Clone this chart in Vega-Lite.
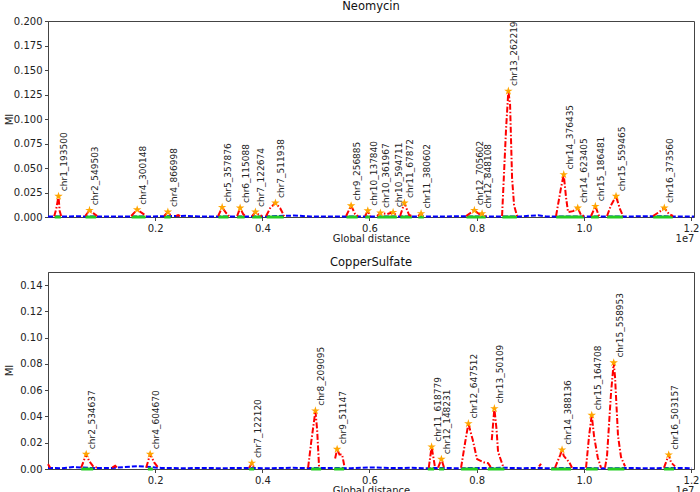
{
  "$schema": "https://vega.github.io/schema/vega-lite/v6.json",
  "padding": {"left": 3, "top": 0, "right": 0, "bottom": 0},
  "background": "white",
  "spacing": 12,
  "config": {
    "font": "DejaVu Sans",
    "view": {"stroke": "#444", "strokeWidth": 1},
    "axis": {"labelFont": "DejaVu Sans", "titleFont": "DejaVu Sans", "labelFontSize": 10, "titleFontSize": 10, "labelColor": "#222", "titleColor": "#222", "tickColor": "#444", "domainColor": "#444", "grid": false, "tickSize": 3.5, "titleFontWeight": "normal", "labelFlush": false, "labelPadding": 2.5, "labelOverlap": false},
    "title": {"font": "DejaVu Sans", "fontSize": 11.5, "fontWeight": "normal", "color": "#111", "offset": 0, "anchor": "middle"}
  },
  "datasets": {
    "neo_base": [
      {"pos": 0, "mi": 0.0006}, {"pos": 246300, "mi": 0.0005}, {"pos": 526100, "mi": 0.0007}, {"pos": 899300, "mi": 0.0005},
      {"pos": 1179100, "mi": 0.0006}, {"pos": 1459000, "mi": 0.0005}, {"pos": 1925400, "mi": 0.0006}, {"pos": 2578400, "mi": 0.0012},
      {"pos": 2858300, "mi": 0.0005}, {"pos": 3417900, "mi": 0.0006}, {"pos": 4015000, "mi": 0.0005}, {"pos": 4593400, "mi": 0.0015},
      {"pos": 4910500, "mi": 0.0005}, {"pos": 5283700, "mi": 0.0006}, {"pos": 5843400, "mi": 0.0005}, {"pos": 6589700, "mi": 0.0006},
      {"pos": 7149400, "mi": 0.0005}, {"pos": 7615800, "mi": 0.0007}, {"pos": 8268800, "mi": 0.0005}, {"pos": 8828500, "mi": 0.0006},
      {"pos": 9145700, "mi": 0.0018}, {"pos": 9295000, "mi": 0.0005}, {"pos": 10041200, "mi": 0.0006}, {"pos": 10321000, "mi": 0.0005},
      {"pos": 10880800, "mi": 0.0006}, {"pos": 11160600, "mi": 0.0008}, {"pos": 11813600, "mi": 0.0005}, {"pos": 12056000, "mi": 0.0006}
    ],
    "neo_green": [
      {"start": 125000, "end": 240000, "mi": 0}, {"start": 700000, "end": 900000, "mi": 0}, {"start": 1560000, "end": 1820000, "mi": 0}, {"start": 2170000, "end": 2290000, "mi": 0},
      {"start": 3180000, "end": 3370000, "mi": 0}, {"start": 3530000, "end": 3670000, "mi": 0}, {"start": 3810000, "end": 3990000, "mi": 0}, {"start": 4080000, "end": 4400000, "mi": 0},
      {"start": 5570000, "end": 5780000, "mi": 0}, {"start": 5920000, "end": 6010000, "mi": 0}, {"start": 6145000, "end": 6510000, "mi": 0}, {"start": 6575000, "end": 6790000, "mi": 0},
      {"start": 6910000, "end": 7015000, "mi": 0}, {"start": 7810000, "end": 8170000, "mi": 0}, {"start": 8480000, "end": 8750000, "mi": 0}, {"start": 9485000, "end": 10000000, "mi": 0},
      {"start": 10135000, "end": 10280000, "mi": 0}, {"start": 10435000, "end": 10730000, "mi": 0}, {"start": 11295000, "end": 11660000, "mi": 0}
    ],
    "neo_red": [
      {"seg": 1, "pos": 115700, "mi": 0.0008}, {"seg": 1, "pos": 153000, "mi": 0.008}, {"seg": 1, "pos": 195900, "mi": 0.0212}, {"seg": 1, "pos": 218300, "mi": 0.006}, {"seg": 1, "pos": 246300, "mi": 0.0008},
      {"seg": 2, "pos": 694000, "mi": 0.001}, {"seg": 2, "pos": 774300, "mi": 0.0068}, {"seg": 2, "pos": 843300, "mi": 0.004}, {"seg": 2, "pos": 917900, "mi": 0.001},
      {"seg": 3, "pos": 1552300, "mi": 0.001}, {"seg": 3, "pos": 1664200, "mi": 0.0075}, {"seg": 3, "pos": 1757500, "mi": 0.004}, {"seg": 3, "pos": 1832100, "mi": 0.001},
      {"seg": 4, "pos": 2167900, "mi": 0.001}, {"seg": 4, "pos": 2237000, "mi": 0.0051}, {"seg": 4, "pos": 2298500, "mi": 0.001},
      {"seg": 5, "pos": 2391800, "mi": 0.001}, {"seg": 5, "pos": 2429100, "mi": 0.002}, {"seg": 5, "pos": 2466400, "mi": 0.001},
      {"seg": 6, "pos": 3175400, "mi": 0.001}, {"seg": 6, "pos": 3250000, "mi": 0.0099}, {"seg": 6, "pos": 3324700, "mi": 0.004}, {"seg": 6, "pos": 3380600, "mi": 0.001},
      {"seg": 7, "pos": 3529900, "mi": 0.001}, {"seg": 7, "pos": 3585900, "mi": 0.0092}, {"seg": 7, "pos": 3641800, "mi": 0.003}, {"seg": 7, "pos": 3679200, "mi": 0.001},
      {"seg": 8, "pos": 3809800, "mi": 0.001}, {"seg": 8, "pos": 3871300, "mi": 0.0051}, {"seg": 8, "pos": 3940400, "mi": 0.002}, {"seg": 8, "pos": 3996300, "mi": 0.001},
      {"seg": 9, "pos": 4070900, "mi": 0.001}, {"seg": 9, "pos": 4145600, "mi": 0.009}, {"seg": 9, "pos": 4244500, "mi": 0.0143}, {"seg": 9, "pos": 4332200, "mi": 0.009}, {"seg": 9, "pos": 4406800, "mi": 0.001},
      {"seg": 10, "pos": 5563500, "mi": 0.001}, {"seg": 10, "pos": 5656800, "mi": 0.0116}, {"seg": 10, "pos": 5731400, "mi": 0.003}, {"seg": 10, "pos": 5787400, "mi": 0.001},
      {"seg": 11, "pos": 5918000, "mi": 0.001}, {"seg": 11, "pos": 5968400, "mi": 0.0065}, {"seg": 11, "pos": 6011300, "mi": 0.001},
      {"seg": 12, "pos": 6141900, "mi": 0.001}, {"seg": 12, "pos": 6203500, "mi": 0.0041}, {"seg": 12, "pos": 6328500, "mi": 0.003}, {"seg": 12, "pos": 6440400, "mi": 0.0048}, {"seg": 12, "pos": 6515000, "mi": 0.001},
      {"seg": 13, "pos": 6571000, "mi": 0.001}, {"seg": 13, "pos": 6651200, "mi": 0.0143}, {"seg": 13, "pos": 6738900, "mi": 0.002}, {"seg": 13, "pos": 6794900, "mi": 0.001},
      {"seg": 14, "pos": 6906800, "mi": 0.001}, {"seg": 14, "pos": 6962800, "mi": 0.0035}, {"seg": 14, "pos": 7018800, "mi": 0.001},
      {"seg": 15, "pos": 7802400, "mi": 0.001}, {"seg": 15, "pos": 7957200, "mi": 0.0068}, {"seg": 15, "pos": 8044900, "mi": 0.003}, {"seg": 15, "pos": 8100900, "mi": 0.0035}, {"seg": 15, "pos": 8175500, "mi": 0.001},
      {"seg": 16, "pos": 8474000, "mi": 0.001}, {"seg": 16, "pos": 8548600, "mi": 0.09}, {"seg": 16, "pos": 8591500, "mi": 0.1285}, {"seg": 16, "pos": 8623300, "mi": 0.115}, {"seg": 16, "pos": 8660600, "mi": 0.04}, {"seg": 16, "pos": 8697900, "mi": 0.012}, {"seg": 16, "pos": 8753900, "mi": 0.001},
      {"seg": 17, "pos": 9481500, "mi": 0.001}, {"seg": 17, "pos": 9574800, "mi": 0.03}, {"seg": 17, "pos": 9625000, "mi": 0.0433}, {"seg": 17, "pos": 9668100, "mi": 0.02}, {"seg": 17, "pos": 9705400, "mi": 0.005}, {"seg": 17, "pos": 9798700, "mi": 0.006}, {"seg": 17, "pos": 9886300, "mi": 0.0092}, {"seg": 17, "pos": 9947900, "mi": 0.002}, {"seg": 17, "pos": 10003900, "mi": 0.001},
      {"seg": 18, "pos": 10134500, "mi": 0.001}, {"seg": 18, "pos": 10214700, "mi": 0.0109}, {"seg": 18, "pos": 10283700, "mi": 0.001},
      {"seg": 19, "pos": 10433000, "mi": 0.001}, {"seg": 19, "pos": 10507600, "mi": 0.012}, {"seg": 19, "pos": 10600900, "mi": 0.0212}, {"seg": 19, "pos": 10675500, "mi": 0.008}, {"seg": 19, "pos": 10731500, "mi": 0.001},
      {"seg": 20, "pos": 11291200, "mi": 0.001}, {"seg": 20, "pos": 11403200, "mi": 0.005}, {"seg": 20, "pos": 11502000, "mi": 0.0092}, {"seg": 20, "pos": 11589700, "mi": 0.003}, {"seg": 20, "pos": 11664400, "mi": 0.001}
    ],
    "neo_peaks": [
      {"label": "chr1_193500", "pos": 195900, "mi": 0.0212},
      {"label": "chr2_549503", "pos": 774300, "mi": 0.0068},
      {"label": "chr4_300148", "pos": 1664200, "mi": 0.0075},
      {"label": "chr4_866998", "pos": 2237000, "mi": 0.0051},
      {"label": "chr5_357876", "pos": 3250000, "mi": 0.0099},
      {"label": "chr6_115088", "pos": 3585900, "mi": 0.0092},
      {"label": "chr7_122674", "pos": 3871300, "mi": 0.0051},
      {"label": "chr7_511938", "pos": 4244500, "mi": 0.0143},
      {"label": "chr9_256885", "pos": 5656800, "mi": 0.0116},
      {"label": "chr10_137840", "pos": 5968400, "mi": 0.0065},
      {"label": "chr10_361967", "pos": 6203500, "mi": 0.0041},
      {"label": "chr10_594711", "pos": 6440400, "mi": 0.0048},
      {"label": "chr11_67872", "pos": 6651200, "mi": 0.0143},
      {"label": "chr11_380602", "pos": 6962800, "mi": 0.0035},
      {"label": "chr12_705602", "pos": 7957200, "mi": 0.0068},
      {"label": "chr12_848108", "pos": 8100900, "mi": 0.0035},
      {"label": "chr13_262219", "pos": 8591500, "mi": 0.1285},
      {"label": "chr14_376435", "pos": 9625000, "mi": 0.0433},
      {"label": "chr14_623405", "pos": 9886300, "mi": 0.0092},
      {"label": "chr15_186481", "pos": 10214700, "mi": 0.0109},
      {"label": "chr15_559465", "pos": 10600900, "mi": 0.0212},
      {"label": "chr16_373560", "pos": 11502000, "mi": 0.0092}
    ],
    "cu_base": [
      {"pos": 0, "mi": 0.0008}, {"pos": 246300, "mi": 0.0006}, {"pos": 470200, "mi": 0.0015}, {"pos": 806000, "mi": 0.0008},
      {"pos": 1179100, "mi": 0.0007}, {"pos": 1682900, "mi": 0.0022}, {"pos": 2112000, "mi": 0.0008}, {"pos": 2485100, "mi": 0.0006},
      {"pos": 2858300, "mi": 0.0008}, {"pos": 3231400, "mi": 0.0006}, {"pos": 3604500, "mi": 0.0008}, {"pos": 4164200, "mi": 0.0006},
      {"pos": 4537400, "mi": 0.0009}, {"pos": 4817200, "mi": 0.0007}, {"pos": 5190400, "mi": 0.0008}, {"pos": 5656800, "mi": 0.0006},
      {"pos": 6029900, "mi": 0.0012}, {"pos": 6403200, "mi": 0.0007}, {"pos": 6776200, "mi": 0.0009}, {"pos": 7056100, "mi": 0.0006},
      {"pos": 7429200, "mi": 0.0008}, {"pos": 7615800, "mi": 0.0006}, {"pos": 8548600, "mi": 0.0009}, {"pos": 8828500, "mi": 0.0006},
      {"pos": 9108300, "mi": 0.0008}, {"pos": 9295000, "mi": 0.0006}, {"pos": 9854600, "mi": 0.0008}, {"pos": 10321000, "mi": 0.0006},
      {"pos": 10880800, "mi": 0.0007}, {"pos": 11253900, "mi": 0.0006}, {"pos": 11813600, "mi": 0.0008}, {"pos": 12018900, "mi": 0.0006}
    ],
    "cu_green": [
      {"start": 619400, "end": 843300, "mi": 0}, {"start": 1863800, "end": 1957100, "mi": 0}, {"start": 3753800, "end": 3847100, "mi": 0}, {"start": 4910500, "end": 5097100, "mi": 0},
      {"start": 5339600, "end": 5526200, "mi": 0}, {"start": 7087800, "end": 7205300, "mi": 0}, {"start": 7298600, "end": 7391900, "mi": 0}, {"start": 7709100, "end": 8020600, "mi": 0},
      {"start": 8207200, "end": 8516900, "mi": 0}, {"start": 9388200, "end": 9761300, "mi": 0}, {"start": 10041200, "end": 10259500, "mi": 0}, {"start": 10446100, "end": 10755800, "mi": 0},
      {"start": 11496400, "end": 11683000, "mi": 0}
    ],
    "cu_red": [
      {"seg": 0, "pos": 0, "mi": 0.0037}, {"seg": 0, "pos": 41000, "mi": 0.001},
      {"seg": 1, "pos": 619400, "mi": 0.001}, {"seg": 1, "pos": 712700, "mi": 0.0113}, {"seg": 1, "pos": 768700, "mi": 0.006}, {"seg": 1, "pos": 843300, "mi": 0.002}, {"seg": 1, "pos": 917900, "mi": 0.001},
      {"seg": 2, "pos": 1197800, "mi": 0.001}, {"seg": 2, "pos": 1253700, "mi": 0.0025}, {"seg": 2, "pos": 1291100, "mi": 0.001},
      {"seg": 3, "pos": 1832100, "mi": 0.001}, {"seg": 3, "pos": 1906700, "mi": 0.0113}, {"seg": 3, "pos": 1981400, "mi": 0.005}, {"seg": 3, "pos": 2056000, "mi": 0.001},
      {"seg": 4, "pos": 3753800, "mi": 0.001}, {"seg": 4, "pos": 3804200, "mi": 0.0045}, {"seg": 4, "pos": 3847100, "mi": 0.001},
      {"seg": 5, "pos": 4854500, "mi": 0.001}, {"seg": 5, "pos": 4910500, "mi": 0.02}, {"seg": 5, "pos": 4990700, "mi": 0.0443}, {"seg": 5, "pos": 5022500, "mi": 0.03}, {"seg": 5, "pos": 5059800, "mi": 0.001},
      {"seg": 6, "pos": 5358300, "mi": 0.008}, {"seg": 6, "pos": 5395600, "mi": 0.0151}, {"seg": 6, "pos": 5438500, "mi": 0.011}, {"seg": 6, "pos": 5488900, "mi": 0.011}, {"seg": 6, "pos": 5531800, "mi": 0.002},
      {"seg": 7, "pos": 7106400, "mi": 0.001}, {"seg": 7, "pos": 7158700, "mi": 0.0169}, {"seg": 7, "pos": 7196000, "mi": 0.008}, {"seg": 7, "pos": 7223900, "mi": 0.001},
      {"seg": 8, "pos": 7279900, "mi": 0.001}, {"seg": 8, "pos": 7341500, "mi": 0.0075}, {"seg": 8, "pos": 7391900, "mi": 0.001},
      {"seg": 9, "pos": 7709100, "mi": 0.001}, {"seg": 9, "pos": 7783700, "mi": 0.02}, {"seg": 9, "pos": 7845300, "mi": 0.0346}, {"seg": 9, "pos": 7927400, "mi": 0.022}, {"seg": 9, "pos": 8007600, "mi": 0.0075}, {"seg": 9, "pos": 8138200, "mi": 0.005}, {"seg": 9, "pos": 8212800, "mi": 0.0045}, {"seg": 9, "pos": 8268800, "mi": 0.001},
      {"seg": 10, "pos": 8281800, "mi": 0.022}, {"seg": 10, "pos": 8330400, "mi": 0.046}, {"seg": 10, "pos": 8371400, "mi": 0.03}, {"seg": 10, "pos": 8399400, "mi": 0.013}, {"seg": 10, "pos": 8492700, "mi": 0.002},
      {"seg": 11, "pos": 9164300, "mi": 0.002}, {"seg": 11, "pos": 9201600, "mi": 0.004},
      {"seg": 12, "pos": 9462800, "mi": 0.001}, {"seg": 12, "pos": 9561700, "mi": 0.011}, {"seg": 12, "pos": 9593400, "mi": 0.0146}, {"seg": 12, "pos": 9625100, "mi": 0.01}, {"seg": 12, "pos": 9729600, "mi": 0.005}, {"seg": 12, "pos": 9780000, "mi": 0.001},
      {"seg": 13, "pos": 10041200, "mi": 0.001}, {"seg": 13, "pos": 10097200, "mi": 0.025}, {"seg": 13, "pos": 10147500, "mi": 0.041}, {"seg": 13, "pos": 10190500, "mi": 0.025}, {"seg": 13, "pos": 10259500, "mi": 0.0088}, {"seg": 13, "pos": 10321000, "mi": 0.001},
      {"seg": 14, "pos": 10395700, "mi": 0.001}, {"seg": 14, "pos": 10433000, "mi": 0.01}, {"seg": 14, "pos": 10507600, "mi": 0.058}, {"seg": 14, "pos": 10557700, "mi": 0.081}, {"seg": 14, "pos": 10582300, "mi": 0.07}, {"seg": 14, "pos": 10638200, "mi": 0.025}, {"seg": 14, "pos": 10694200, "mi": 0.009}, {"seg": 14, "pos": 10768800, "mi": 0.002},
      {"seg": 15, "pos": 11496400, "mi": 0.001}, {"seg": 15, "pos": 11584100, "mi": 0.0108}, {"seg": 15, "pos": 11627000, "mi": 0.005}, {"seg": 15, "pos": 11701600, "mi": 0.002}
    ],
    "cu_peaks": [
      {"label": "chr2_534637", "pos": 712700, "mi": 0.0113},
      {"label": "chr4_604670", "pos": 1906700, "mi": 0.0113},
      {"label": "chr7_122120", "pos": 3804200, "mi": 0.0045},
      {"label": "chr8_209095", "pos": 4990700, "mi": 0.0443},
      {"label": "chr9_51147", "pos": 5395600, "mi": 0.0151},
      {"label": "chr11_618779", "pos": 7158700, "mi": 0.0169},
      {"label": "chr12_148231", "pos": 7341500, "mi": 0.0075},
      {"label": "chr12_647512", "pos": 7845300, "mi": 0.0346},
      {"label": "chr13_50109", "pos": 8330400, "mi": 0.046},
      {"label": "chr14_388136", "pos": 9593400, "mi": 0.0146},
      {"label": "chr15_164708", "pos": 10147500, "mi": 0.041},
      {"label": "chr15_558953", "pos": 10557700, "mi": 0.081},
      {"label": "chr16_503157", "pos": 11584100, "mi": 0.0108}
    ]
  },
  "vconcat": [
    {
      "title": "Neomycin",
      "width": 646,
      "height": 196,
      "layer": [
        {
          "data": {"name": "neo_base"},
          "mark": {"type": "line", "color": "#0000ff", "strokeWidth": 2, "strokeDash": [5, 2]},
          "encoding": {
            "x": {"field": "pos", "type": "quantitative", "scale": {"domain": [0, 12056000], "nice": false, "zero": false},
                  "axis": {"orient": "bottom", "title": "Global distance", "values": [2000000, 4000000, 6000000, 8000000, 10000000, 12000000], "labelExpr": "format(datum.value / 10000000, '.1f')", "titleBaseline": "top", "titleY": 16}},
            "y": {"field": "mi", "type": "quantitative", "scale": {"domain": [0, 0.2], "nice": false},
                  "axis": {"title": "MI", "values": [0, 0.025, 0.05, 0.075, 0.1, 0.125, 0.15, 0.175, 0.2], "format": ".3f", "titleX": -34, "titleY": 98, "labelOverlap": false}}
          }
        },
        {
          "data": {"name": "neo_green"},
          "mark": {"type": "rule", "color": "#22cc22", "strokeWidth": 3},
          "encoding": {
            "x": {"field": "start", "type": "quantitative", "axis": {"orient": "bottom", "title": "1e7", "labels": false, "ticks": false, "domain": false, "titleAnchor": "end", "titleBaseline": "top", "titleY": 16}},
            "x2": {"field": "end"},
            "y": {"field": "mi", "type": "quantitative",
                  "axis": {"title": "MI", "values": [0, 0.025, 0.05, 0.075, 0.1, 0.125, 0.15, 0.175, 0.2], "format": ".3f", "titleX": -34, "titleY": 98, "labelOverlap": false}}
          }
        },
        {
          "data": {"name": "neo_red"},
          "mark": {"type": "line", "color": "#ff0000", "strokeWidth": 2, "strokeDash": [6, 2, 1.5, 2]},
          "encoding": {
            "x": {"field": "pos", "type": "quantitative", "axis": null},
            "y": {"field": "mi", "type": "quantitative",
                  "axis": {"title": "MI", "values": [0, 0.025, 0.05, 0.075, 0.1, 0.125, 0.15, 0.175, 0.2], "format": ".3f", "titleX": -34, "titleY": 98, "labelOverlap": false}},
            "detail": {"field": "seg", "type": "nominal"}
          }
        },
        {
          "data": {"name": "neo_peaks"},
          "mark": {"type": "point", "shape": "M0,-1L0.2245,-0.309L0.951,-0.309L0.363,0.118L0.588,0.809L0,0.382L-0.588,0.809L-0.363,0.118L-0.951,-0.309L-0.2245,-0.309Z", "filled": true, "color": "#ffa500", "size": 80, "opacity": 1},
          "encoding": {
            "x": {"field": "pos", "type": "quantitative", "axis": null},
            "y": {"field": "mi", "type": "quantitative",
                  "axis": {"title": "MI", "values": [0, 0.025, 0.05, 0.075, 0.1, 0.125, 0.15, 0.175, 0.2], "format": ".3f", "titleX": -34, "titleY": 98, "labelOverlap": false}}
          }
        },
        {
          "data": {"name": "neo_peaks"},
          "mark": {"type": "text", "angle": 270, "align": "left", "baseline": "middle", "dx": 5, "dy": 6, "fontSize": 9, "color": "#222"},
          "encoding": {
            "x": {"field": "pos", "type": "quantitative", "axis": null},
            "y": {"field": "mi", "type": "quantitative",
                  "axis": {"title": "MI", "values": [0, 0.025, 0.05, 0.075, 0.1, 0.125, 0.15, 0.175, 0.2], "format": ".3f", "titleX": -34, "titleY": 98, "labelOverlap": false}},
            "text": {"field": "label", "type": "nominal"}
          }
        }
      ],
      "resolve": {"axis": {"x": "independent"}}
    },
    {
      "title": "CopperSulfate",
      "width": 646,
      "height": 197,
      "layer": [
        {
          "data": {"name": "cu_base"},
          "mark": {"type": "line", "color": "#0000ff", "strokeWidth": 2, "strokeDash": [5, 2]},
          "encoding": {
            "x": {"field": "pos", "type": "quantitative", "scale": {"domain": [0, 12056000], "nice": false, "zero": false},
                  "axis": {"orient": "bottom", "title": "Global distance", "values": [2000000, 4000000, 6000000, 8000000, 10000000, 12000000], "labelExpr": "format(datum.value / 10000000, '.1f')", "titleBaseline": "top", "titleY": 16}},
            "y": {"field": "mi", "type": "quantitative", "scale": {"domain": [0, 0.15], "nice": false},
                  "axis": {"title": "MI", "values": [0, 0.02, 0.04, 0.06, 0.08, 0.1, 0.12, 0.14], "format": ".2f", "titleX": -34, "titleY": 98, "labelOverlap": false}}
          }
        },
        {
          "data": {"name": "cu_green"},
          "mark": {"type": "rule", "color": "#22cc22", "strokeWidth": 3},
          "encoding": {
            "x": {"field": "start", "type": "quantitative", "axis": {"orient": "bottom", "title": "1e7", "labels": false, "ticks": false, "domain": false, "titleAnchor": "end", "titleBaseline": "top", "titleY": 16}},
            "x2": {"field": "end"},
            "y": {"field": "mi", "type": "quantitative",
                  "axis": {"title": "MI", "values": [0, 0.02, 0.04, 0.06, 0.08, 0.1, 0.12, 0.14], "format": ".2f", "titleX": -34, "titleY": 98, "labelOverlap": false}}
          }
        },
        {
          "data": {"name": "cu_red"},
          "mark": {"type": "line", "color": "#ff0000", "strokeWidth": 2, "strokeDash": [6, 2, 1.5, 2]},
          "encoding": {
            "x": {"field": "pos", "type": "quantitative", "axis": null},
            "y": {"field": "mi", "type": "quantitative",
                  "axis": {"title": "MI", "values": [0, 0.02, 0.04, 0.06, 0.08, 0.1, 0.12, 0.14], "format": ".2f", "titleX": -34, "titleY": 98, "labelOverlap": false}},
            "detail": {"field": "seg", "type": "nominal"}
          }
        },
        {
          "data": {"name": "cu_peaks"},
          "mark": {"type": "point", "shape": "M0,-1L0.2245,-0.309L0.951,-0.309L0.363,0.118L0.588,0.809L0,0.382L-0.588,0.809L-0.363,0.118L-0.951,-0.309L-0.2245,-0.309Z", "filled": true, "color": "#ffa500", "size": 80, "opacity": 1},
          "encoding": {
            "x": {"field": "pos", "type": "quantitative", "axis": null},
            "y": {"field": "mi", "type": "quantitative",
                  "axis": {"title": "MI", "values": [0, 0.02, 0.04, 0.06, 0.08, 0.1, 0.12, 0.14], "format": ".2f", "titleX": -34, "titleY": 98, "labelOverlap": false}}
          }
        },
        {
          "data": {"name": "cu_peaks"},
          "mark": {"type": "text", "angle": 270, "align": "left", "baseline": "middle", "dx": 5, "dy": 6, "fontSize": 9, "color": "#222"},
          "encoding": {
            "x": {"field": "pos", "type": "quantitative", "axis": null},
            "y": {"field": "mi", "type": "quantitative",
                  "axis": {"title": "MI", "values": [0, 0.02, 0.04, 0.06, 0.08, 0.1, 0.12, 0.14], "format": ".2f", "titleX": -34, "titleY": 98, "labelOverlap": false}},
            "text": {"field": "label", "type": "nominal"}
          }
        }
      ],
      "resolve": {"axis": {"x": "independent"}}
    }
  ]
}
